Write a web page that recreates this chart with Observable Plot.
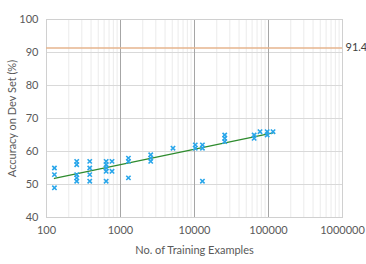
<!DOCTYPE html>
<html><head><meta charset="utf-8">
<script src="https://cdn.jsdelivr.net/npm/d3@7"></script>
<script src="https://cdn.jsdelivr.net/npm/@observablehq/plot@0.6"></script>
<style>body{margin:0;background:#fff}</style>
</head><body><div id="chart"></div>
<script>
// Data
const examples = [128,128,128, 256,256,256,256,256, 384,384,384,384, 640,640,640,640,640, 768,768,
  1280,1280,1280, 2560,2560,2560, 5120, 10240,10240, 12800,12800,12800, 25600,25600,25600,
  64000,64000, 76800, 96000,96000, 115200];
const accuracy = [55,53,49, 57,56,53,52,51, 57,55,53,51, 57,56,55,54,51, 57,54,
  58,57,52, 59,58,57, 61, 62,61, 62,61,51, 65,64,63,
  65,64, 66, 66,65, 66];
const humanLevel = [91.4];
const xTicks = [100, 1000, 10000, 100000, 1000000];
const yTicks = [40, 50, 60, 70, 80, 90, 100];

const points = examples.map((x, i) => ({x, y: accuracy[i]}));

// least-squares trend of accuracy on log10(examples)
const lx = examples.map(Math.log10);
const mx = d3.mean(lx), my = d3.mean(accuracy);
const slope = d3.sum(lx, (v, i) => (v - mx) * (accuracy[i] - my)) / d3.sum(lx, v => (v - mx) ** 2);
const xs = d3.extent(examples);
const trend = xs.map(x => ({x, y: my + slope * (Math.log10(x) - mx)}));

const minor = d3.scaleLog().domain([100, 1e6]).ticks().filter(t => !xTicks.includes(t));

const font = "Lato, sans-serif";
const chart = Plot.plot({
  width: 366, height: 264,
  marginLeft: 46, marginRight: 24, marginTop: 19, marginBottom: 47,
  style: {fontFamily: font, fontSize: "11px", color: "#595959", background: "#fff"},
  x: {type: "log", domain: [100, 1e6], ticks: xTicks, tickFormat: d3.format("d"), tickSize: 0, tickPadding: 9,
      label: "No. of Training Examples", labelAnchor: "center", labelArrow: "none", labelOffset: 36},
  y: {domain: [40, 100], ticks: yTicks, tickSize: 0, tickPadding: 8,
      label: "Accuracy on Dev Set (%)", labelAnchor: "center", labelArrow: "none", labelOffset: 38},
  marks: [
    Plot.ruleX(minor, {stroke: "#ebebeb", strokeWidth: 1}),
    Plot.ruleY(yTicks, {stroke: "#d9d9d9", strokeWidth: 1}),
    Plot.ruleX(xTicks, {stroke: "#a6a6a6", strokeWidth: 1}),
    Plot.frame({stroke: "#d0d0d0"}),
    Plot.ruleY(humanLevel, {stroke: "#e6b48e", strokeWidth: 1.5}),
    Plot.text(humanLevel, {x: () => 1e6, y: d => d, text: d => String(d), textAnchor: "start", dx: 3, clip: false, fill: "#404040"}),
    Plot.line(trend, {x: "x", y: "y", stroke: "#2e8b2e", strokeWidth: 1.3}),
    Plot.dot(points, {x: "x", y: "y", symbol: "times", r: 2.1, stroke: "#29a6ea", strokeWidth: 1.6})
  ]
});
document.getElementById("chart").append(chart);
</script></body></html>
